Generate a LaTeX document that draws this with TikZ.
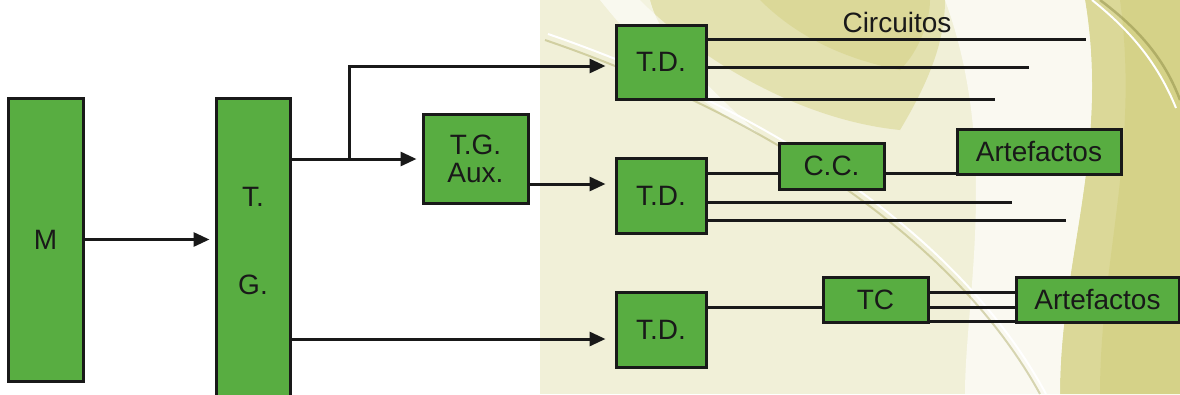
\documentclass[tikz,border=0pt]{standalone}
\usepackage{fontspec}
\setmainfont{Liberation Sans}
\usetikzlibrary{arrows.meta,calc}
\definecolor{boxgreen}{RGB}{88,173,65}
\definecolor{cream}{RGB}{241,240,216}
\definecolor{olive}{RGB}{201,198,100}
\definecolor{ink}{RGB}{25,25,25}
\tikzset{
  blk/.style={draw=ink, fill=boxgreen, line width=3pt, inner sep=0pt,
    font=\fontsize{28}{28}\selectfont, text=ink, align=center},
  wire/.style={draw=ink, line width=3pt},
  arr/.style={wire, -{Triangle[length=16pt,width=14pt]}, shorten >=5pt},
  arrtd/.style={arr, shorten >=9pt},
  lbl/.style={font=\fontsize{28}{28}\selectfont, text=ink, inner sep=0pt}
}
\begin{document}
\begin{tikzpicture}[x=1pt,y=-1pt]
\useasboundingbox (0,0) rectangle (1180,394);
\clip (0,0) rectangle (1180,394);
% background
\fill[white] (0,0) rectangle (1180,394);
\fill[cream] (540,0) rectangle (1180,394);
\fill[olive, opacity=0.35] (640,0) .. controls (700,60) and (800,120) .. (900,130)
   .. controls (930,80) and (945,40) .. (945,0) -- cycle;
\fill[olive, opacity=0.3] (760,0) .. controls (800,40) and (850,60) .. (900,70)
   .. controls (920,50) and (930,20) .. (930,0) -- cycle;
\fill[white, opacity=0.6] (600,0) .. controls (640,50) and (690,100) .. (760,135)
   .. controls (700,80) and (660,40) .. (650,0) -- cycle;
\fill[olive, opacity=0.55] (1085,0) .. controls (1110,150) and (1060,260) .. (1060,394)
   -- (1180,394) -- (1180,0) -- cycle;
\fill[olive, opacity=0.3] (1120,0) .. controls (1140,150) and (1100,260) .. (1100,394)
   -- (1180,394) -- (1180,0) -- cycle;
\fill[white, opacity=0.65] (945,0) -- (1085,0) .. controls (1110,150) and (1060,260) .. (1060,394)
   -- (965,394) .. controls (965,300) and (1000,150) .. (945,0) -- cycle;
\draw[olive!80!black, opacity=0.4, line width=2pt] (545,40) .. controls (750,110) and (950,230) .. (1040,394);
\draw[white, line width=2pt] (548,34) .. controls (752,104) and (954,224) .. (1046,394);
\draw[olive!70!black, opacity=0.5, line width=2.5pt] (1100,0) .. controls (1140,30) and (1165,60) .. (1180,100);
\draw[white, line width=2pt] (1092,0) .. controls (1132,32) and (1158,64) .. (1176,108);

% coordinates
\coordinate (j1) at (349,159);
\coordinate (u1) at (349,66);
\coordinate (a2) at (528,184);
\coordinate (b3) at (290,339);
\coordinate (c1) at (1086,39);
\coordinate (c2) at (1029,67);
\coordinate (c3) at (995,99);
\coordinate (k1) at (779,173);
\coordinate (d1) at (1012,202);
\coordinate (d2) at (1066,220);
\coordinate (m1) at (823,307);
\coordinate (n1) at (1016,292);
\coordinate (n2) at (1016,307);
\coordinate (n3) at (1016,321);

% boxes
\node[blk, minimum width=75pt, minimum height=283pt] (M) at (45.5,239.5) {M};
\node[blk, minimum width=74pt, minimum height=320pt] (TG) at (253,258) {};
\node[lbl] (tgT) at (253,197) {T.};
\node[lbl] (tgG) at (253,285) {G.};
\node[blk, minimum width=105pt, minimum height=89pt] (TGA) at (475.5,158.5) {T.G.\\Aux.};
\node[blk, minimum width=90pt, minimum height=74pt] (TD1) at (661,62) {T.D.};
\node[blk, minimum width=90pt, minimum height=75pt] (TD2) at (661,195.5) {T.D.};
\node[blk, minimum width=90pt, minimum height=75pt] (TD3) at (661,329.5) {T.D.};
\node[blk, minimum width=105pt, minimum height=46pt] (CC) at (831.5,166) {C.C.};
\node[blk, minimum width=164pt, minimum height=45pt] (Art1) at (1039,151.5) {Artefactos};
\node[blk, minimum width=105pt, minimum height=45pt] (TC) at (875.5,299.5) {TC};
\node[blk, minimum width=163pt, minimum height=45pt] (Art2) at (1097.5,299.5) {Artefactos};
\node[lbl] (circ) at (897,22) {Circuitos};

% connectors
\draw[arr] (M.east) -- (M.east -| TG.west);
\draw[wire] (TG.east |- j1) -- (j1);
\draw[arr] (j1) -- (j1 -| TGA.west);
\draw[arrtd] (j1) -- (u1) -- (u1 -| TD1.west);
\draw[arrtd] (TGA.east |- a2) -- (a2 -| TD2.west);
\draw[arrtd] (TG.east |- b3) -- (b3 -| TD3.west);

\draw[wire] (TD1.east |- c1) -- (c1);
\draw[wire] (TD1.east |- c2) -- (c2);
\draw[wire] (TD1.east |- c3) -- (c3);

\draw[wire] (TD2.east |- k1) -- (k1 -| CC.west);
\draw[wire] (CC.east |- k1) -- (k1 -| Art1.west);
\draw[wire] (TD2.east |- d1) -- (d1);
\draw[wire] (TD2.east |- d2) -- (d2);

\draw[wire] (TD3.east |- m1) -- (m1 -| TC.west);
\draw[wire] (TC.east |- n1) -- (n1 -| Art2.west);
\draw[wire] (TC.east |- n2) -- (n2 -| Art2.west);
\draw[wire] (TC.east |- n3) -- (n3 -| Art2.west);
\end{tikzpicture}
\end{document}
